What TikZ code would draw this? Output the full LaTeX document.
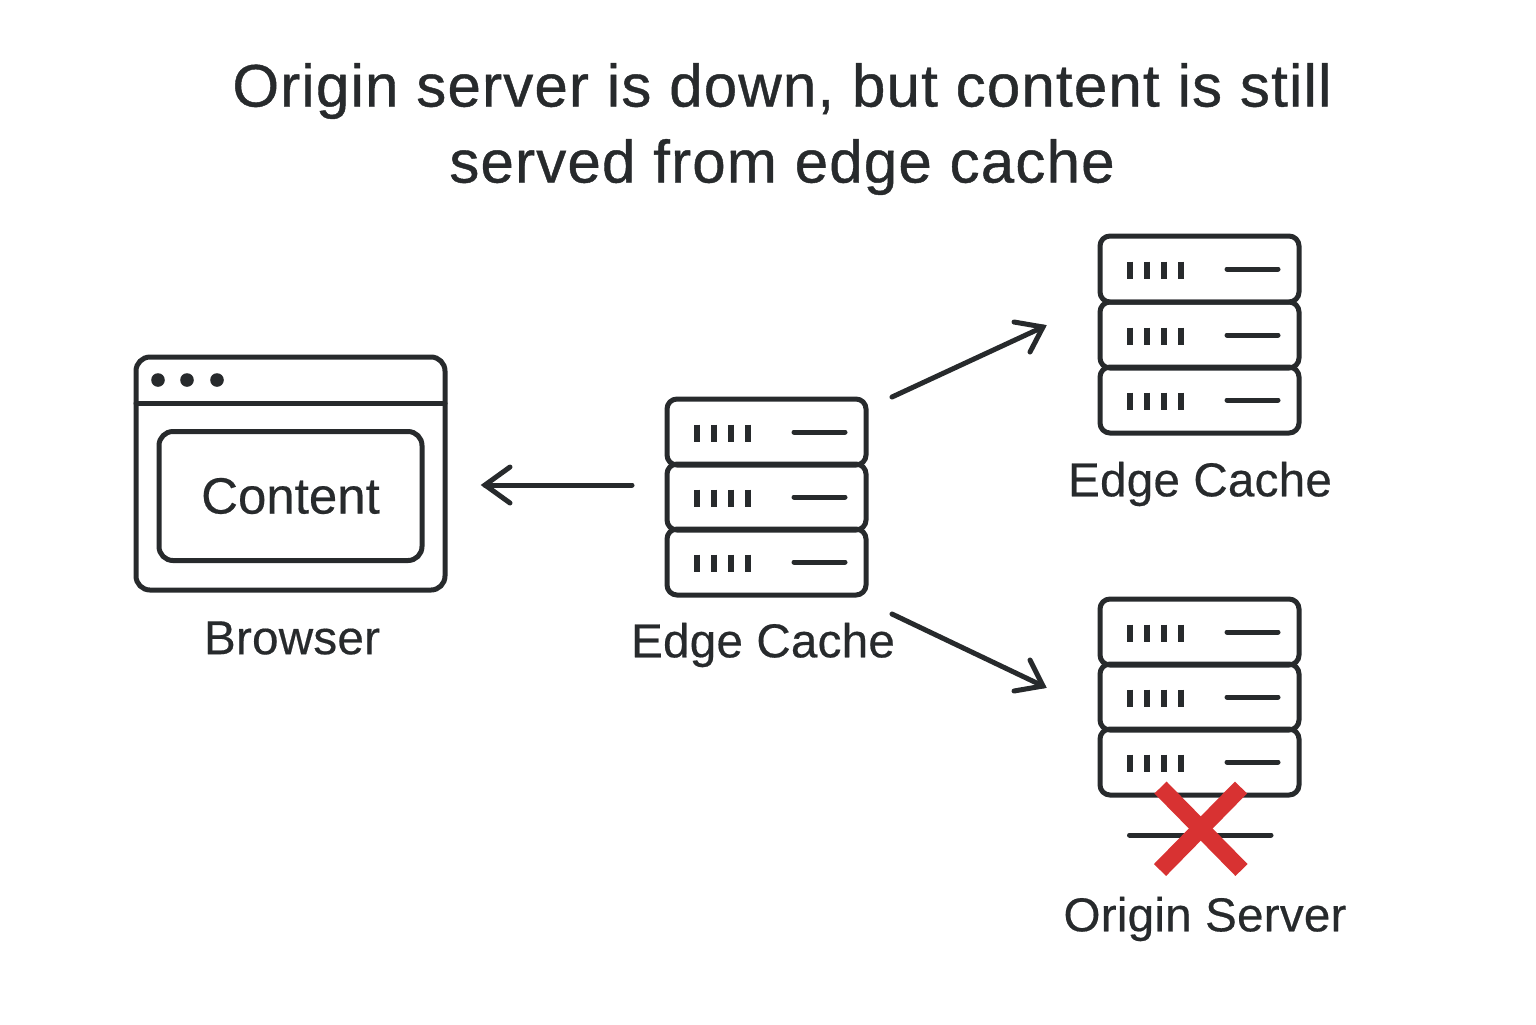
\documentclass[tikz,border=0pt]{standalone}
\usepackage{fontspec}
\setmainfont[FakeBold=0.4]{Liberation Sans}
\newfontfamily\headfont[FakeBold=0.7]{Liberation Sans}
\usepackage{tikz}
\definecolor{ink}{HTML}{272A2C}
\definecolor{crossred}{HTML}{D83232}
% one unit is one pixel of the reference
\newcommand{\rackunit}[2]{%
  \draw[icon, rounded corners=5pt] (#1-33,#2-33) rectangle (#1+33+133,#2+33);
  \foreach \dx in {-3,14,31,48}
    \draw[tick] (#1+\dx,#2-7.5) -- (#1+\dx,#2+9.5);
  \draw[icon] (#1+94,#2) -- (#1+145,#2);
}
\begin{document}
\begin{tikzpicture}[x=0.5pt, y=-0.5pt]
    % Styles
    \tikzset{
      icon/.style={draw=ink, line width=2.5pt, line cap=round},
      tick/.style={draw=ink, line width=2.6pt},
      arrow/.style={draw=ink, line width=2.5pt, line cap=round, line join=miter},
      caption/.style={text=ink, font=\fontsize{23.8}{26}\selectfont\addfontfeature{LetterSpace=0.5}},
      headline/.style={text=ink, font=\headfont\fontsize{30}{38}\selectfont\addfontfeature{LetterSpace=2}, align=center}
    }
    \useasboundingbox (0,0) rectangle (1536,1024);

    % Title
    \node[headline] (title) at (782,129) {Origin server is down, but content is still\\served from edge cache};

    % Browser window
    \draw[icon, rounded corners=7pt] (136,357) rectangle (445,590);
    \draw[icon] (136,403) -- (445,403);
    \foreach \cx in {158,187,217}
      \fill[ink] (\cx,380) circle (3.4pt);
    \node[draw=ink, line width=2.5pt, rounded corners=7pt, minimum width=131.5pt, minimum height=64.5pt, caption, font=\fontsize{25.5}{26}\selectfont, inner sep=0pt] (content) at (290.5,496) {Content};
    \node[caption] (browser) at (292,638) {Browser};

    % Racks
    \rackunit{700}{432}
    \rackunit{700}{497}
    \rackunit{700}{562}
    \node[caption] (edgeA) at (763,645) {Edge Cache};

    \rackunit{1133}{269}
    \rackunit{1133}{335}
    \rackunit{1133}{400}
    \node[caption] (edgeB) at (1200,484) {Edge Cache};

    \rackunit{1133}{632}
    \rackunit{1133}{697}
    \rackunit{1133}{762}
    \draw[icon] (1129.5,835) -- (1271,835);
    \draw[draw=crossred, line width=8.5pt] (1160.5,787.5) -- (1241.5,870);
    \draw[draw=crossred, line width=8.5pt] (1241,787.5) -- (1160,870);
    \node[caption] (origin) at (1205,919) {Origin Server};

    % Arrows
    \coordinate (fromL) at (632,485);
    \coordinate (toL) at (485,485);
    \coordinate (fromU) at (892,397);
    \coordinate (toU) at (1043,327);
    \coordinate (fromD) at (892,614);
    \coordinate (toD) at (1043,686);
    \draw[arrow] (fromL) -- (toL);
    \draw[arrow] (510,467) -- (toL) -- (510,503);
    \draw[arrow] (fromU) -- (toU);
    \draw[arrow] (1014,322) -- (toU) -- (1030,352);
    \draw[arrow] (fromD) -- (toD);
    \draw[arrow] (1030,660) -- (toD) -- (1014,691);
\end{tikzpicture}
\end{document}
